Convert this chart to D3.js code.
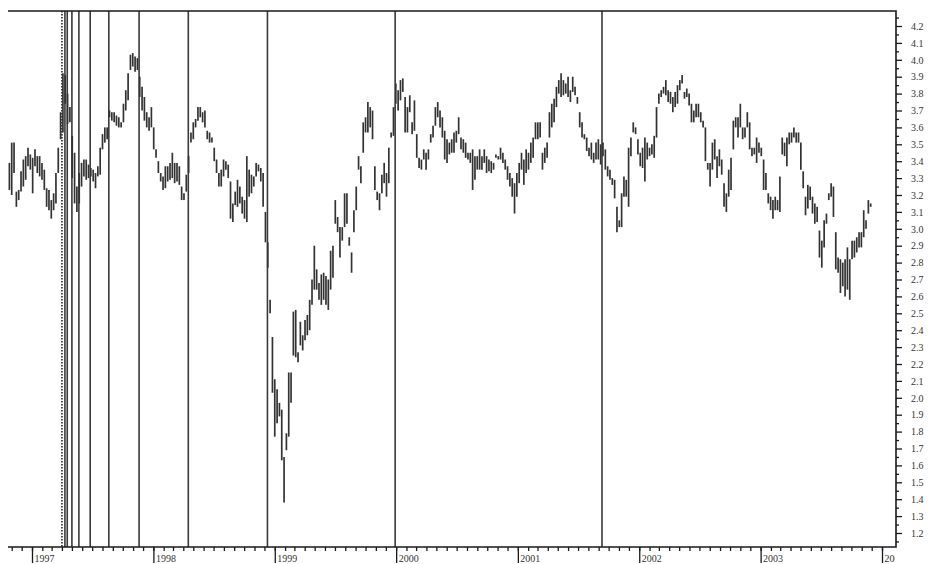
<!DOCTYPE html>
<html>
<head>
<meta charset="utf-8">
<script src="https://cdn.jsdelivr.net/npm/d3@7"></script>
<style>
  body { margin: 0; background: #fff; }
  svg { display: block; }
  text { font-family: "Liberation Serif", "DejaVu Serif", serif; fill: #222; }
</style>
</head>
<body>
<div id="chart"></div>
<script>
// Frame size and plot edges
const chartWidth = 936;
const chartHeight = 564;
const frameLeft = 8, frameRight = 896, frameTop = 11, frameBottom = 547;

// Weekly high / low bars, first week starts 1996-10-25
const firstWeek = "1996-10-25";

const weeksA = [[3.39,3.23],[3.51,3.20],[3.51,3.33],[3.22,3.13],[3.23,3.17],[3.34,3.22],[3.41,3.25],[3.43,3.29],[3.48,3.37],[3.44,3.35],
  [3.42,3.21],[3.47,3.37],[3.43,3.33],[3.43,3.31],[3.39,3.29],[3.35,3.23],[3.24,3.13],[3.23,3.11],[3.17,3.06],[3.21,3.11],
  [3.33,3.15],[3.48,3.33],[3.69,3.53],[3.92,3.57],[3.91,3.74],[3.80,3.62],[3.72,3.63],[3.55,3.30],[3.45,3.15],[3.25,3.10],
  [3.33,3.15],[3.39,3.25],[3.41,3.31],[3.41,3.29],[3.38,3.30],[3.36,3.31],[3.35,3.28],[3.33,3.24],[3.37,3.31],[3.48,3.32],
  [3.56,3.47],[3.60,3.51],[3.60,3.53],[3.70,3.66],[3.69,3.64],[3.69,3.63],[3.67,3.61],[3.66,3.60],[3.63,3.60],[3.74,3.63],
  [3.82,3.70],[3.92,3.76],[4.03,3.94],[4.04,3.96],[4.02,3.93],[4.01,3.94],[3.90,3.78],[3.84,3.70],[3.78,3.64],[3.69,3.60],
  [3.66,3.58],[3.72,3.60]];

const weeksB = [[3.60,3.47],[3.47,3.42],[3.40,3.33],[3.33,3.28],[3.31,3.23],[3.37,3.24],[3.37,3.28],[3.39,3.29],[3.45,3.30],[3.39,3.27],
  [3.39,3.28],[3.37,3.26],[3.25,3.17],[3.21,3.17],[3.32,3.22],[3.43,3.33],[3.57,3.51],[3.63,3.53],[3.65,3.60],[3.72,3.64],
  [3.72,3.66],[3.69,3.63],[3.70,3.60],[3.58,3.53],[3.57,3.51],[3.54,3.51],[3.48,3.40],[3.41,3.33],[3.33,3.25],[3.35,3.25],
  [3.41,3.31],[3.40,3.35],[3.38,3.30],[3.28,3.06],[3.15,3.04],[3.22,3.14],[3.29,3.13],[3.25,3.15],[3.19,3.09],[3.17,3.06],
  [3.43,3.04],[3.35,3.19],[3.32,3.21],[3.31,3.25],[3.39,3.31],[3.38,3.34],[3.36,3.28],[3.33,3.13],[3.10,2.92],[2.92,2.77],
  [2.58,2.50],[2.36,2.03],[2.11,1.77],[2.05,1.85],[1.97,1.89],[1.93,1.63],[1.65,1.38],[1.79,1.69],[2.15,1.77],[2.15,1.97],
  [2.51,2.25],[2.52,2.24]];

const weeksC = [[2.27,2.21],[2.45,2.31],[2.37,2.28],[2.46,2.34],[2.49,2.37],[2.58,2.40],[2.70,2.55],[2.90,2.64],[2.76,2.64],[2.68,2.58],
  [2.73,2.55],[2.74,2.58],[2.72,2.55],[2.70,2.52],[2.87,2.64],[2.90,2.71],[3.17,3.03],[3.07,2.98],[3.01,2.83],[3.01,2.93],
  [3.21,3.01],[3.21,3.03],[2.95,2.90],[2.86,2.74],[3.11,2.98],[3.25,3.11],[3.43,3.35],[3.37,3.27],[3.63,3.45],[3.66,3.57],
  [3.75,3.57],[3.72,3.60],[3.70,3.53],[3.37,3.23],[3.22,3.17],[3.21,3.11],[3.32,3.21],[3.39,3.27],[3.33,3.19],[3.48,3.27],
  [3.57,3.54],[3.72,3.55],[3.86,3.74],[3.82,3.70],[3.88,3.76],[3.89,3.81],[3.78,3.57],[3.72,3.57],[3.79,3.69],[3.63,3.56],
  [3.76,3.58],[3.56,3.42],[3.42,3.36],[3.41,3.35],[3.47,3.41],[3.45,3.35],[3.47,3.41],[3.56,3.51],[3.61,3.54],[3.72,3.61],
  [3.75,3.66],[3.70,3.60]];

const weeksD = [[3.66,3.54],[3.58,3.41],[3.53,3.39],[3.51,3.44],[3.53,3.45],[3.57,3.45],[3.58,3.51],[3.66,3.56],[3.54,3.47],[3.53,3.45],
  [3.51,3.42],[3.45,3.41],[3.45,3.39],[3.47,3.23],[3.43,3.29],[3.43,3.35],[3.47,3.35],[3.43,3.35],[3.47,3.39],[3.43,3.33],
  [3.41,3.34],[3.40,3.33],[3.39,3.35],[3.44,3.42],[3.43,3.41],[3.48,3.41],[3.45,3.39],[3.41,3.35],[3.37,3.29],[3.33,3.25],
  [3.30,3.19],[3.27,3.09],[3.33,3.19],[3.39,3.27],[3.45,3.35],[3.41,3.26],[3.47,3.33],[3.45,3.35],[3.51,3.39],[3.54,3.42],
  [3.63,3.53],[3.63,3.53],[3.63,3.54],[3.45,3.35],[3.48,3.39],[3.51,3.42],[3.69,3.54],[3.74,3.60],[3.77,3.63],[3.84,3.72],
  [3.88,3.80],[3.92,3.78],[3.88,3.79],[3.86,3.80],[3.90,3.78],[3.82,3.75],[3.90,3.81],[3.84,3.79],[3.78,3.74],[3.69,3.60],
  [3.63,3.54],[3.56,3.53]];

const weeksE = [[3.54,3.46],[3.48,3.43],[3.51,3.41],[3.45,3.39],[3.51,3.41],[3.53,3.41],[3.50,3.38],[3.51,3.43],[3.47,3.35],[3.37,3.31],
  [3.35,3.29],[3.30,3.26],[3.29,3.18],[3.13,2.98],[3.05,3.01],[3.21,3.01],[3.31,3.19],[3.29,3.19],[3.48,3.13],[3.54,3.43],
  [3.63,3.57],[3.60,3.56],[3.53,3.44],[3.45,3.37],[3.48,3.36],[3.54,3.28],[3.51,3.41],[3.48,3.43],[3.50,3.44],[3.55,3.42],
  [3.72,3.54],[3.80,3.74],[3.82,3.78],[3.84,3.80],[3.88,3.79],[3.82,3.75],[3.81,3.74],[3.78,3.69],[3.81,3.72],[3.85,3.74],
  [3.88,3.82],[3.91,3.86],[3.81,3.77],[3.83,3.78],[3.80,3.73],[3.74,3.63],[3.70,3.63],[3.74,3.66],[3.74,3.66],[3.69,3.63],
  [3.64,3.60],[3.60,3.40],[3.39,3.35],[3.39,3.25],[3.51,3.35],[3.53,3.41],[3.43,3.30],[3.47,3.37],[3.41,3.32],[3.27,3.13],
  [3.21,3.10],[3.35,3.19]];

const weeksF = [[3.42,3.23],[3.64,3.47],[3.66,3.60],[3.66,3.54],[3.74,3.60],[3.60,3.53],[3.60,3.54],[3.69,3.60],[3.63,3.47],[3.48,3.43],
  [3.48,3.44],[3.54,3.39],[3.51,3.45],[3.48,3.43],[3.41,3.23],[3.33,3.23],[3.21,3.15],[3.19,3.11],[3.17,3.06],[3.19,3.11],
  [3.17,3.11],[3.31,3.10],[3.54,3.44],[3.51,3.43],[3.54,3.37],[3.57,3.50],[3.57,3.51],[3.60,3.54],[3.57,3.51],[3.57,3.51],
  [3.51,3.35],[3.34,3.24],[3.19,3.08],[3.26,3.12],[3.25,3.17],[3.19,3.09],[3.15,3.03],[3.13,3.04],[2.99,2.83],[2.93,2.77],
  [3.05,2.89],[3.09,3.03],[3.21,3.17],[3.27,3.19],[3.25,3.07],[2.98,2.76],[2.83,2.74],[2.82,2.62],[2.80,2.66],[2.82,2.60],
  [2.89,2.64],[2.82,2.58],[2.93,2.82],[2.93,2.83],[2.95,2.86],[2.98,2.89],[2.98,2.89],[3.11,2.95],[3.05,3.00],[3.17,3.09],
  [3.15,3.13]];

// Event markers (vertical lines); the first one is dotted
const dottedEvent = "1997-04-01";
const eventDates = ["1997-04-10", "1997-04-17", "1997-05-01", "1997-05-22", "1997-06-25", "1997-08-20",
                    "1997-11-19", "1998-04-16", "1998-12-10", "1999-12-29", "2001-09-11"];

// Axis labels
const yearLabels = ["1997", "1998", "1999", "2000", "2001", "2002", "2003", "2004"];
const priceTicks = [1.2, 1.3, 1.4, 1.5, 1.6, 1.7, 1.8, 1.9, 2.0, 2.1, 2.2, 2.3, 2.4, 2.5, 2.6, 2.7, 2.8, 2.9,
                    3.0, 3.1, 3.2, 3.3, 3.4, 3.5, 3.6, 3.7, 3.8, 3.9, 4.0, 4.1, 4.2];

const parseDate = d3.timeParse("%Y-%m-%d");
const start = parseDate(firstWeek);

const bars = [].concat(weeksA, weeksB, weeksC, weeksD, weeksE, weeksF).map(function(d, i) {
  return {date: d3.timeDay.offset(start, 7 * i), hi: d[0], lo: d[1]};
});

let x = d3.scaleTime()
  .domain([parseDate("1997-01-01"), parseDate("2004-01-01")])
  .range([32, 882]);

let y = d3.scaleLinear()
  .domain([1.2, 4.2])
  .range([533, 26]);

let svg = d3.select("#chart").append("svg")
  .attr("width", chartWidth)
  .attr("height", chartHeight);

svg.append("defs").append("clipPath")
  .attr("id", "labelClip")
  .append("rect")
  .attr("x", 0).attr("y", 0)
  .attr("width", frameRight - 1).attr("height", chartHeight);

// Event lines
svg.append("g").selectAll("line")
  .data(eventDates)
  .enter().append("line")
  .attr("x1", d => x(parseDate(d))).attr("x2", d => x(parseDate(d)))
  .attr("y1", frameTop).attr("y2", frameBottom)
  .style("stroke", "#3a3a3a")
  .style("stroke-width", 1.6);

svg.append("line")
  .attr("x1", x(parseDate(dottedEvent))).attr("x2", x(parseDate(dottedEvent)))
  .attr("y1", frameTop).attr("y2", frameBottom)
  .style("stroke", "#222")
  .style("stroke-width", 1.6)
  .style("stroke-dasharray", "1.5,1.5");

// Price bars
svg.append("g").selectAll("line")
  .data(bars)
  .enter().append("line")
  .attr("x1", d => x(d.date)).attr("x2", d => x(d.date))
  .attr("y1", d => y(d.hi))
  .attr("y2", d => Math.max(y(d.lo), y(d.hi) + 2))
  .style("stroke", "#333")
  .style("stroke-width", 1.7);

// Frame lines: top, right, bottom
svg.append("path")
  .attr("d", "M" + frameLeft + "," + frameTop + "H" + frameRight + "V" + frameBottom + "H" + frameLeft)
  .style("fill", "none")
  .style("stroke", "#1a1a1a")
  .style("stroke-width", 1.6);

// Right price axis, major and minor ticks
let yMajor = svg.append("g")
  .attr("transform", "translate(" + frameRight + ",0)")
  .call(d3.axisRight(y).tickValues(priceTicks).tickSize(6).tickPadding(9).tickFormat(d3.format(".1f")));

let yMinor = svg.append("g")
  .attr("transform", "translate(" + frameRight + ",0)")
  .call(d3.axisRight(y).tickValues(d3.range(1.15, 4.3, 0.1)).tickSize(3).tickFormat(""));

[yMajor, yMinor].forEach(function(g) {
  g.select(".domain").remove();
  g.selectAll(".tick line").style("stroke", "#1a1a1a").style("stroke-width", 1.3);
});
yMajor.selectAll("text")
  .style("font-size", "10px")
  .style("font-family", "'Liberation Serif', serif")
  .style("fill", "#333");

// Bottom time axis: monthly ticks plus long year ticks with labels
let xMonths = svg.append("g")
  .attr("transform", "translate(0," + frameBottom + ")")
  .call(d3.axisBottom(x)
    .tickValues(d3.timeMonth.range(parseDate("1996-11-01"), parseDate("2004-01-02")))
    .tickSize(4).tickFormat(""));

let xYears = svg.append("g")
  .attr("transform", "translate(0," + frameBottom + ")")
  .attr("clip-path", "url(#labelClip)")
  .call(d3.axisBottom(x)
    .tickValues(yearLabels.map(d => parseDate(d + "-01-01")))
    .tickSize(16)
    .tickFormat(d3.timeFormat("%Y")));

[xMonths, xYears].forEach(function(g) {
  g.select(".domain").remove();
  g.selectAll(".tick line").style("stroke", "#1a1a1a").style("stroke-width", 1.3);
});
xYears.selectAll("text")
  .attr("text-anchor", "start")
  .attr("x", 2)
  .attr("y", 8)
  .style("font-size", "10px")
  .style("font-family", "'Liberation Serif', serif")
  .style("fill", "#333");
</script>
</body>
</html>
